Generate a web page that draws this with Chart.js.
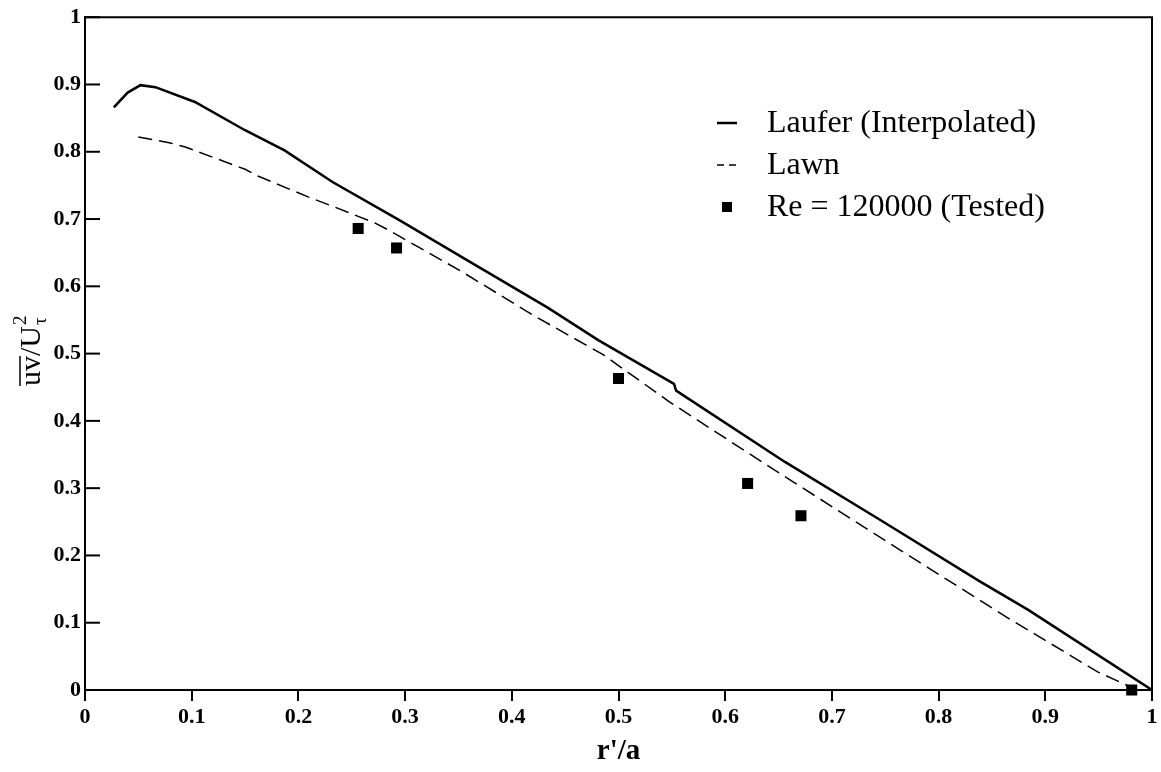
<!DOCTYPE html>
<html>
<head>
<meta charset="utf-8">
<script src="https://cdn.jsdelivr.net/npm/chart.js@4.4.1/dist/chart.umd.min.js"></script>
<style>
  html, body { margin: 0; padding: 0; background: #fff; }
  #wrap { width: 1161px; height: 772px; }
</style>
</head>
<body>
<div id="wrap"><canvas id="chart"></canvas></div>
<script>
// values
const lauferX = [0.027, 0.04, 0.052, 0.066, 0.103, 0.15, 0.187, 0.232, 0.295, 0.358, 0.434, 0.481, 0.552, 0.554, 0.656, 0.745, 0.839, 0.884, 1.0];
const lauferY = [0.866, 0.888, 0.899, 0.896, 0.874, 0.832, 0.802, 0.755, 0.698, 0.639, 0.568, 0.52, 0.455, 0.445, 0.339, 0.253, 0.161, 0.119, 0.0];

const lawnX = [0.05, 0.08, 0.094, 0.15, 0.162, 0.209, 0.232, 0.272, 0.284, 0.354, 0.42, 0.486, 0.548, 0.651, 0.664, 0.764, 0.864, 0.949, 0.982];
const lawnY = [0.822, 0.813, 0.807, 0.774, 0.764, 0.733, 0.719, 0.694, 0.684, 0.621, 0.557, 0.498, 0.428, 0.322, 0.309, 0.208, 0.108, 0.027, 0.003];

const testedX = [0.256, 0.292, 0.5, 0.621, 0.671, 0.981];
const testedY = [0.686, 0.657, 0.463, 0.307, 0.259, 0.0];

const seriesNames = ['Laufer (Interpolated)', 'Lawn', 'Re = 120000 (Tested)'];
const xTitle = "r'/a";

function pts(xs, ys) {
  return xs.map((x, i) => ({ x: x, y: ys[i] }));
}

const serif = "'Liberation Serif', 'Times New Roman', serif";

// ticks as 0, 0.1 ... 1 (no trailing .0)
function tickText(v) {
  return String(+v.toFixed(1));
}

// frame, inward y ticks, y title and legend
const extras = {
  id: 'extras',
  afterDraw(chart) {
    const ctx = chart.ctx;
    const a = chart.chartArea;
    const ys = chart.scales.y;
    ctx.save();
    ctx.strokeStyle = '#000';
    ctx.lineWidth = 2;
    ctx.beginPath();
    ctx.moveTo(a.left, a.top);
    ctx.lineTo(a.right, a.top);
    ctx.lineTo(a.right, a.bottom);
    ctx.stroke();

    ys.ticks.forEach(t => {
      const py = ys.getPixelForValue(t.value);
      ctx.beginPath();
      ctx.moveTo(a.left, py);
      ctx.lineTo(a.left + 15, py);
      ctx.stroke();
    });

    // y axis title: overline uv / U with tau subscript and 2 superscript
    ctx.translate(30, 342);
    ctx.rotate(-Math.PI / 2);
    ctx.fillStyle = '#000';
    ctx.textBaseline = 'middle';
    ctx.font = '30px ' + serif;
    const main = 'uv/U';
    const w1 = ctx.measureText('uv').width;
    const wm = ctx.measureText(main).width;
    const startX = -44;
    ctx.textAlign = 'left';
    ctx.fillText(main, startX, 2);
    ctx.lineWidth = 1.5;
    ctx.beginPath();
    ctx.moveTo(startX, -10);
    ctx.lineTo(startX + w1, -10);
    ctx.stroke();
    ctx.font = '19px ' + serif;
    ctx.fillText('2', startX + wm + 1, -9);
    ctx.fillText('\u03c4', startX + wm + 1, 11);

    ctx.setTransform(1, 0, 0, 1, 0, 0);
    // legend
    chart.data.datasets.forEach((ds, i) => {
      const cy = 123 + i * 42;
      ctx.strokeStyle = '#000';
      ctx.fillStyle = '#000';
      if (i === 0) {
        ctx.lineWidth = 2.5;
        ctx.setLineDash([]);
        ctx.beginPath();
        ctx.moveTo(717, cy);
        ctx.lineTo(737, cy);
        ctx.stroke();
      } else if (i === 1) {
        ctx.lineWidth = 1.5;
        ctx.setLineDash([7, 5]);
        ctx.beginPath();
        ctx.moveTo(717, cy);
        ctx.lineTo(737, cy);
        ctx.stroke();
        ctx.setLineDash([]);
      } else {
        ctx.fillRect(722, cy - 5, 10, 10);
      }
      ctx.font = '32px ' + serif;
      ctx.textAlign = 'left';
      ctx.textBaseline = 'middle';
      ctx.fillText(ds.label, 767, cy + 1);
    });
    ctx.restore();
  }
};

new Chart(document.getElementById('chart'), {
  type: 'scatter',
  data: {
    datasets: [
      {
        label: seriesNames[0],
        data: pts(lauferX, lauferY),
        showLine: true,
        borderColor: '#000',
        borderWidth: 2.5,
        pointRadius: 0,
        tension: 0
      },
      {
        label: seriesNames[1],
        data: pts(lawnX, lawnY),
        showLine: true,
        borderColor: '#000',
        borderWidth: 1.5,
        borderDash: [14, 7],
        pointRadius: 0,
        tension: 0
      },
      {
        label: seriesNames[2],
        data: pts(testedX, testedY),
        showLine: false,
        clip: false,
        backgroundColor: '#000',
        borderColor: '#000',
        borderWidth: 0,
        pointStyle: 'rect',
        pointRadius: 7.8
      }
    ]
  },
  options: {
    responsive: true,
    maintainAspectRatio: false,
    animation: false,
    layout: { padding: { left: 0, right: 9, top: 17, bottom: 0 } },
    plugins: {
      legend: { display: false },
      tooltip: { enabled: false }
    },
    scales: {
      x: {
        type: 'linear',
        min: 0,
        max: 1,
        ticks: {
          stepSize: 0.1,
          color: '#000',
          padding: 3,
          callback: tickText,
          font: { family: serif, size: 22, weight: 'bold' }
        },
        grid: {
          drawOnChartArea: false,
          color: '#000',
          lineWidth: 2,
          tickLength: 11
        },
        border: { display: true, color: '#000', width: 2 },
        title: {
          display: true,
          text: xTitle,
          color: '#000',
          padding: { top: 0, bottom: 3 },
          font: { family: serif, size: 29, weight: 'bold' }
        },
        afterFit(scale) { scale.height = 82; }
      },
      y: {
        type: 'linear',
        min: 0,
        max: 1,
        ticks: {
          stepSize: 0.1,
          color: '#000',
          padding: 4,
          callback: tickText,
          font: { family: serif, size: 22, weight: 'bold' }
        },
        grid: {
          drawOnChartArea: false,
          drawTicks: false
        },
        border: { display: true, color: '#000', width: 2 },
        afterFit(scale) { scale.width = 85; }
      }
    }
  },
  plugins: [extras]
});
</script>
</body>
</html>
